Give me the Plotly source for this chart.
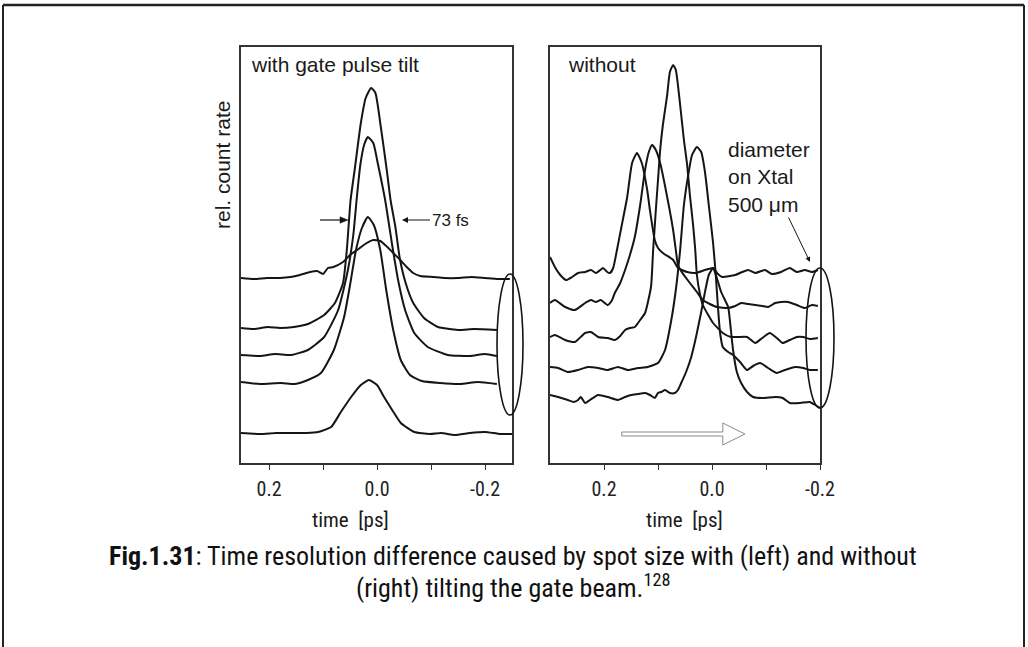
import plotly.graph_objects as go

W, H = 1028, 647

# ---------------- data (time in ps, relative count rate) ----------------
# left panel: with gate pulse tilt
L1 = [(0.252,1.85),(0.228,1.84),(0.204,1.85),(0.180,1.85),(0.160,1.86),(0.143,1.88),(0.124,1.91),(0.111,1.92),
      (0.100,1.89),(0.091,1.95),(0.081,1.96),(0.063,2.01),(0.050,2.08),(0.037,2.13),(0.022,2.19),(0.007,2.23),
      (-0.006,2.22),(-0.019,2.16),(-0.030,2.10),(-0.043,2.03),(-0.055,1.96),(-0.067,1.90),(-0.080,1.87),(-0.104,1.86),
      (-0.125,1.85),(-0.150,1.85),(-0.175,1.86),(-0.200,1.85),(-0.225,1.84),(-0.246,1.84)]
L2 = [(0.252,1.35),(0.228,1.34),(0.202,1.36),(0.180,1.35),(0.154,1.36),(0.128,1.39),(0.098,1.48),(0.078,1.60),
      (0.063,1.80),(0.056,2.13),(0.049,2.63),(0.041,2.95),(0.030,3.40),(0.021,3.65),(0.011,3.75),(0.003,3.70),
      (-0.007,3.36),(-0.018,2.93),(-0.025,2.63),(-0.034,2.36),(-0.042,2.05),(-0.053,1.80),(-0.067,1.60),(-0.087,1.45),
      (-0.113,1.36),(-0.150,1.33),(-0.180,1.34),(-0.222,1.33)]
L3 = [(0.252,1.08),(0.217,1.07),(0.189,1.09),(0.159,1.08),(0.128,1.13),(0.098,1.26),(0.072,1.53),(0.054,1.93),
      (0.044,2.28),(0.037,2.68),(0.031,2.98),(0.024,3.18),(0.017,3.26),(0.007,3.20),(-0.002,2.98),(-0.015,2.63),
      (-0.028,2.18),(-0.039,1.83),(-0.052,1.53),(-0.069,1.30),(-0.094,1.16),(-0.131,1.08),(-0.172,1.07),(-0.200,1.09),
      (-0.222,1.07)]
L4 = [(0.252,0.81),(0.217,0.79),(0.178,0.80),(0.152,0.79),(0.128,0.83),(0.104,0.90),(0.080,1.13),(0.061,1.46),
      (0.050,1.78),(0.039,2.13),(0.028,2.35),(0.017,2.46),(0.006,2.38),(-0.006,2.13),(-0.017,1.73),(-0.030,1.33),
      (-0.044,1.03),(-0.061,0.88),(-0.083,0.82),(-0.117,0.80),(-0.154,0.79),(-0.187,0.81),(-0.222,0.79)]
L5 = [(0.252,0.30),(0.217,0.29),(0.187,0.30),(0.159,0.30),(0.131,0.30),(0.109,0.31),(0.085,0.36),(0.067,0.51),
      (0.048,0.66),(0.030,0.78),(0.015,0.83),(0.000,0.78),(-0.013,0.66),(-0.028,0.53),(-0.044,0.40),(-0.069,0.31),
      (-0.098,0.29),(-0.119,0.30),(-0.144,0.28),(-0.172,0.30),(-0.200,0.31),(-0.228,0.29),(-0.254,0.29)]

# right panel: without tilt
R1 = [(0.300,2.06),(0.291,1.96),(0.281,1.88),(0.270,1.83),(0.259,1.86),(0.248,1.90),(0.235,1.91),(0.224,1.93),
      (0.215,1.90),(0.207,1.93),(0.202,1.95),(0.194,1.91),(0.189,1.90),(0.183,1.95),(0.176,2.13),(0.167,2.38),
      (0.157,2.66),(0.148,3.00),(0.139,3.10),(0.130,3.00),(0.120,2.73),(0.115,2.53),(0.106,2.23),(0.100,2.15),
      (0.091,2.10),(0.072,2.03),(0.063,1.95),(0.046,1.91),(0.031,1.90),(0.013,1.93),(-0.002,1.95),(-0.011,1.89),
      (-0.019,1.86),(-0.043,1.88),(-0.056,1.91),(-0.067,1.93),(-0.080,1.90),(-0.098,1.93),(-0.111,1.89),(-0.128,1.91),
      (-0.144,1.95),(-0.157,1.91),(-0.172,1.93),(-0.185,1.91),(-0.196,1.93)]
R2 = [(0.300,1.60),(0.291,1.63),(0.272,1.56),(0.254,1.53),(0.235,1.60),(0.224,1.63),(0.215,1.61),(0.206,1.63),
      (0.193,1.58),(0.185,1.63),(0.180,1.70),(0.170,1.80),(0.161,1.93),(0.152,2.08),(0.143,2.26),(0.133,2.58),
      (0.124,2.93),(0.117,3.11),(0.111,3.18),(0.104,3.13),(0.096,3.00),(0.083,2.66),(0.072,2.33),(0.067,2.13),
      (0.063,1.98),(0.056,1.91),(0.041,1.80),(0.028,1.71),(0.017,1.63),(0.004,1.59),(-0.009,1.56),(-0.030,1.55),
      (-0.043,1.57),(-0.054,1.60),(-0.067,1.59),(-0.080,1.58),(-0.093,1.57),(-0.104,1.56),(-0.117,1.60),(-0.128,1.61),
      (-0.141,1.61),(-0.157,1.58),(-0.172,1.55),(-0.185,1.58),(-0.196,1.57)]
R3 = [(0.300,1.26),(0.291,1.28),(0.272,1.23),(0.254,1.21),(0.235,1.30),(0.224,1.31),(0.211,1.26),(0.193,1.25),
      (0.180,1.23),(0.170,1.27),(0.161,1.33),(0.152,1.35),(0.143,1.36),(0.133,1.43),(0.124,1.50),(0.113,1.76),
      (0.109,2.13),(0.104,2.53),(0.100,2.83),(0.096,3.13),(0.091,3.38),(0.083,3.68),(0.078,3.91),(0.072,3.98),
      (0.067,3.93),(0.059,3.58),(0.052,3.23),(0.046,2.98),(0.041,2.68),(0.035,2.38),(0.031,2.13),(0.028,1.88),
      (0.022,1.68),(0.017,1.58),(0.007,1.48),(-0.002,1.40),(-0.020,1.30),(-0.035,1.26),(-0.048,1.26),(-0.065,1.26),
      (-0.080,1.20),(-0.093,1.25),(-0.107,1.30),(-0.120,1.25),(-0.131,1.20),(-0.144,1.23),(-0.157,1.26),(-0.169,1.26),
      (-0.181,1.24),(-0.196,1.25)]
R4 = [(0.300,0.96),(0.285,0.95),(0.267,0.91),(0.248,0.93),(0.230,0.96),(0.211,0.95),(0.193,0.93),(0.174,0.96),
      (0.156,0.93),(0.137,0.95),(0.119,0.96),(0.100,1.00),(0.087,1.13),(0.076,1.41),(0.067,1.73),(0.059,2.13),
      (0.052,2.58),(0.044,2.88),(0.037,3.08),(0.028,3.16),(0.020,3.11),(0.013,2.91),(0.006,2.58),(-0.002,2.20),
      (-0.007,1.88),(-0.011,1.56),(-0.015,1.30),(-0.020,1.16),(-0.030,1.11),(-0.039,1.08),(-0.052,1.01),(-0.065,0.93),
      (-0.076,0.97),(-0.089,1.00),(-0.104,0.95),(-0.120,0.90),(-0.135,0.93),(-0.154,0.96),(-0.169,0.95),(-0.181,0.93),
      (-0.196,0.93)]
R5 = [(0.300,0.68),(0.285,0.66),(0.267,0.63),(0.256,0.61),(0.248,0.63),(0.243,0.66),(0.235,0.60),(0.226,0.63),
      (0.211,0.68),(0.193,0.66),(0.174,0.63),(0.161,0.66),(0.150,0.68),(0.137,0.69),(0.124,0.70),(0.115,0.68),
      (0.106,0.65),(0.100,0.70),(0.094,0.71),(0.087,0.73),(0.078,0.70),(0.069,0.70),(0.063,0.73),(0.057,0.80),
      (0.048,0.91),(0.039,1.05),(0.030,1.25),(0.020,1.51),(0.013,1.71),(0.006,1.88),(-0.002,1.95),(-0.009,1.85),
      (-0.017,1.71),(-0.024,1.63),(-0.030,1.56),(-0.035,1.33),(-0.039,1.13),(-0.046,0.91),(-0.054,0.80),(-0.065,0.71),
      (-0.076,0.66),(-0.094,0.65),(-0.117,0.66),(-0.131,0.65),(-0.144,0.60),(-0.163,0.60),(-0.181,0.61),(-0.191,0.58),
      (-0.200,0.55)]

tick_vals = [0.2, 0.0, -0.2]
tick_text = ["0.2", "0.0", "-0.2"]
minor_vals = [0.1, -0.1]

left_title = "with gate pulse tilt"
right_title = "without"
y_label = "rel. count rate"
x_label = "time  [ps]"
fwhm_label = "73 fs"
spot_label = "diameter<br>on Xtal<br>500 \u03bcm"
caption1 = "<b>Fig.1.31</b>: Time resolution difference caused by spot size with (left) and without"
caption2 = "(right) tilting the gate beam.<sup>128</sup>"

# ---------------- helpers ----------------
def PX(x):
    return x / W

def PY(y):
    return 1 - y / H

INK = "#151515"
PLOT_FONT = "Liberation Sans, Arial, Helvetica, sans-serif"
NARROW = "Liberation Sans Narrow, Arial Narrow, Roboto Condensed, Liberation Sans, sans-serif"

fig = go.Figure()

for s in [L1, L2, L3, L4, L5]:
    fig.add_trace(go.Scatter(x=[p[0] for p in s], y=[p[1] for p in s], mode="lines",
                             line=dict(color=INK, width=2, shape="spline", smoothing=0.5),
                             xaxis="x", yaxis="y", hoverinfo="skip"))
for s in [R1, R2, R3, R4, R5]:
    fig.add_trace(go.Scatter(x=[p[0] for p in s], y=[p[1] for p in s], mode="lines",
                             line=dict(color=INK, width=2, shape="spline", smoothing=0.5),
                             xaxis="x2", yaxis="y2", hoverinfo="skip"))

ydom = [PY(463), PY(47)]
axis_common = dict(showline=True, mirror=True, linecolor="#333", linewidth=1.5, showgrid=False,
                   zeroline=False, automargin=False)
xcommon = dict(axis_common, ticks="outside", ticklen=5, tickwidth=1.3, tickcolor="#333",
               tickvals=tick_vals, ticktext=tick_text, ticklabelstandoff=2,
               minor=dict(ticks="outside", ticklen=5, tickwidth=1.3, tickcolor="#333",
                          tickvals=minor_vals, showgrid=False),
               tickfont=dict(family=NARROW, size=20, color="#222"))
ycommon = dict(axis_common, ticks="", showticklabels=False, range=[0, 4.16], domain=ydom)

fig.update_layout(
    width=W, height=H, margin=dict(l=0, r=0, t=0, b=0),
    paper_bgcolor="white", plot_bgcolor="white", showlegend=False,
    xaxis=dict(xcommon, domain=[PX(241), PX(512)], range=[0.252, -0.25], anchor="y"),
    yaxis=dict(ycommon, anchor="x"),
    xaxis2=dict(xcommon, domain=[PX(550), PX(820)], range=[0.3, -0.2], anchor="y2"),
    yaxis2=dict(ycommon, anchor="x2"),
)

shapes = [
    # outer frame of the figure
    dict(type="line", xref="paper", yref="paper", x0=PX(3), x1=PX(1024), y0=PY(5), y1=PY(5),
         line=dict(color="#222", width=2.5)),
    dict(type="line", xref="paper", yref="paper", x0=PX(3), x1=PX(3), y0=PY(5), y1=PY(700),
         line=dict(color="#222", width=2)),
    dict(type="line", xref="paper", yref="paper", x0=PX(1024), x1=PX(1024), y0=PY(5), y1=PY(700),
         line=dict(color="#222", width=2)),
    # spot ellipses
    dict(type="circle", xref="paper", yref="paper", x0=PX(497), x1=PX(523), y0=PY(415), y1=PY(274),
         line=dict(color=INK, width=1.6), fillcolor="rgba(0,0,0,0)"),
    dict(type="circle", xref="paper", yref="paper", x0=PX(806), x1=PX(834), y0=PY(408), y1=PY(268),
         line=dict(color=INK, width=1.6), fillcolor="rgba(0,0,0,0)"),
    # hollow arrow (scan direction)
    dict(type="path", xref="x2", yref="y2",
         path="M 0.167,0.31 L -0.020,0.31 L -0.020,0.40 L -0.061,0.29 L -0.020,0.18 L -0.020,0.27 L 0.167,0.27 Z",
         line=dict(color="#8a8a8a", width=1), fillcolor="white"),
    # left FWHM marker arrow: shaft and head
    dict(type="line", xref="paper", yref="paper", x0=PX(320), x1=PX(342), y0=PY(220), y1=PY(220),
         line=dict(color=INK, width=1.2)),
    dict(type="path", xref="paper", yref="paper",
         path=f"M {PX(348)},{PY(220)} L {PX(340)},{PY(216.8)} L {PX(340)},{PY(223.2)} Z",
         line=dict(color=INK, width=0.5), fillcolor=INK),
]
fig.update_layout(shapes=shapes)

txt = dict(family=PLOT_FONT, size=21, color="#1a1a1a")
ann = [
    dict(text=left_title, x=PX(249), y=PY(65), xanchor="left", yanchor="middle", font=txt),
    dict(text=right_title, x=PX(566), y=PY(65), xanchor="left", yanchor="middle", font=txt),
    dict(text=y_label, x=PX(222), y=PY(165), xanchor="center", yanchor="middle", textangle=-90, font=txt),
    # "73 fs" with its arrow pointing left to the right flank
    dict(text=fwhm_label, x=PX(402), y=PY(220), showarrow=True, ax=48, ay=0, arrowhead=2, arrowsize=1,
         arrowwidth=1.2, arrowcolor=INK, standoff=0,
         font=dict(family=PLOT_FONT, size=17, color="#1a1a1a")),
    # spot size label with its arrow to the ellipse
    dict(text=spot_label, x=PX(810), y=PY(262), showarrow=True, ax=-41, ay=-85, arrowhead=2, arrowsize=1,
         arrowwidth=1, arrowcolor=INK, align="left", font=txt),
    dict(text=x_label, x=PX(350), y=PY(520), xanchor="center", yanchor="middle",
         font=dict(family=NARROW, size=21, color="#1a1a1a")),
    dict(text=x_label, x=PX(684), y=PY(520), xanchor="center", yanchor="middle",
         font=dict(family=NARROW, size=21, color="#1a1a1a")),
    dict(text=caption1, x=PX(513), y=PY(556), xanchor="center", yanchor="middle",
         font=dict(family=NARROW, size=26, color="#111")),
    dict(text=caption2, x=PX(513), y=PY(586), xanchor="center", yanchor="middle",
         font=dict(family=NARROW, size=26, color="#111")),
]
for a in ann:
    a.setdefault("xref", "paper")
    a.setdefault("yref", "paper")
    a.setdefault("showarrow", False)
fig.update_layout(annotations=ann)

fig.write_html("out.html", config={"displayModeBar": False},
               post_script="document.body.style.margin='0';document.body.style.overflow='hidden';")
